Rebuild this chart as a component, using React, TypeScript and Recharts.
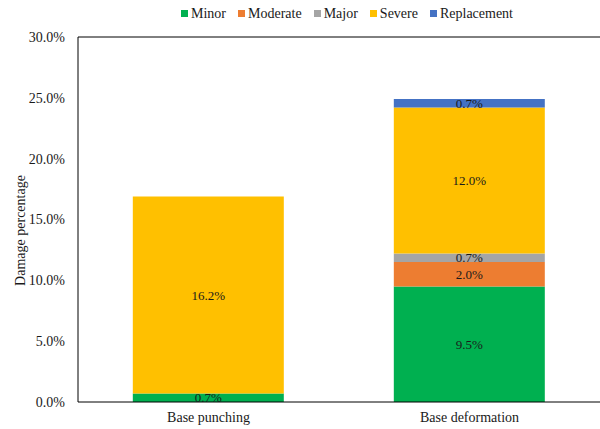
import { Bar, BarChart, XAxis, YAxis, Legend, LabelList, ReferenceLine, Label } from "recharts";

const categories = ["Base punching", "Base deformation"];
const minor = [0.7, 9.5];
const moderate = [null, 2.0];
const major = [null, 0.7];
const severe = [16.2, 12.0];
const replacement = [null, 0.7];
const yTicks = [0, 5, 10, 15, 20, 25, 30];

const series = [
  { key: "Minor", values: minor, color: "#00B050" },
  { key: "Moderate", values: moderate, color: "#ED7D31" },
  { key: "Major", values: major, color: "#A5A5A5" },
  { key: "Severe", values: severe, color: "#FFC000" },
  { key: "Replacement", values: replacement, color: "#4472C4" },
];

const data = categories.map((name, i) => {
  const row: Record<string, string | number | null> = { name };
  series.forEach((s) => {
    row[s.key] = s.values[i];
  });
  return row;
});

const font = "'Liberation Serif', 'Times New Roman', serif";

const fmt = (v: any) => (v == null || v === 0 ? "" : `${Number(v).toFixed(1)}%`);

function LegendContent() {
  return (
    <div
      style={{
        display: "flex",
        justifyContent: "center",
        fontFamily: font,
        fontSize: 14,
        color: "#1a1a1a",
        height: 15,
        paddingLeft: 94,
      }}
    >
      {series.map((s, i) => (
        <span
          key={s.key}
          style={{ display: "inline-flex", alignItems: "center", marginLeft: i === 0 ? 0 : 12 }}
        >
          <span style={{ width: 7, height: 7, background: s.color, display: "inline-block", marginRight: 3 }} />
          {s.key}
        </span>
      ))}
    </div>
  );
}

export default function App() {
  return (
    <div style={{ position: "absolute", left: 0, top: 0, background: "#fff", fontFamily: font }}>
      <BarChart
        width={600}
        height={429}
        data={data}
        margin={{ top: 22, right: 0, bottom: 0, left: 0 }}
        barCategoryGap="21%"
        style={{ fontFamily: font }}
      >
        <XAxis
          dataKey="name"
          height={27}
          tickLine={false}
          axisLine={{ stroke: "#000" }}
          tickMargin={4}
          tick={{ fontFamily: font, fontSize: 14, fill: "#1a1a1a" }}
        />
        <YAxis
          width={78}
          domain={[0, 30]}
          ticks={yTicks}
          tickFormatter={(v) => `${v.toFixed(1)}%`}
          tickLine={false}
          axisLine={{ stroke: "#000" }}
          tickMargin={7}
          tick={{ fontFamily: font, fontSize: 14, fill: "#1a1a1a" }}
        >
          <Label
            value="Damage percentage"
            angle={-90}
            position="insideLeft"
            dx={15}
            dy={11}
            style={{ fontFamily: font, fontSize: 14, fill: "#1a1a1a", textAnchor: "middle" }}
          />
        </YAxis>
        <ReferenceLine y={30} stroke="#000" />
        <Legend verticalAlign="top" content={<LegendContent />} wrapperStyle={{ top: 6, left: 0 }} />
        {series.map((s) => (
          <Bar key={s.key} dataKey={s.key} stackId="a" fill={s.color} isAnimationActive={false}>
            <LabelList
              dataKey={s.key}
              position="center"
              formatter={fmt}
              style={{ fontFamily: font, fontSize: 13, fill: "#1a1a1a" }}
            />
          </Bar>
        ))}
      </BarChart>
    </div>
  );
}
